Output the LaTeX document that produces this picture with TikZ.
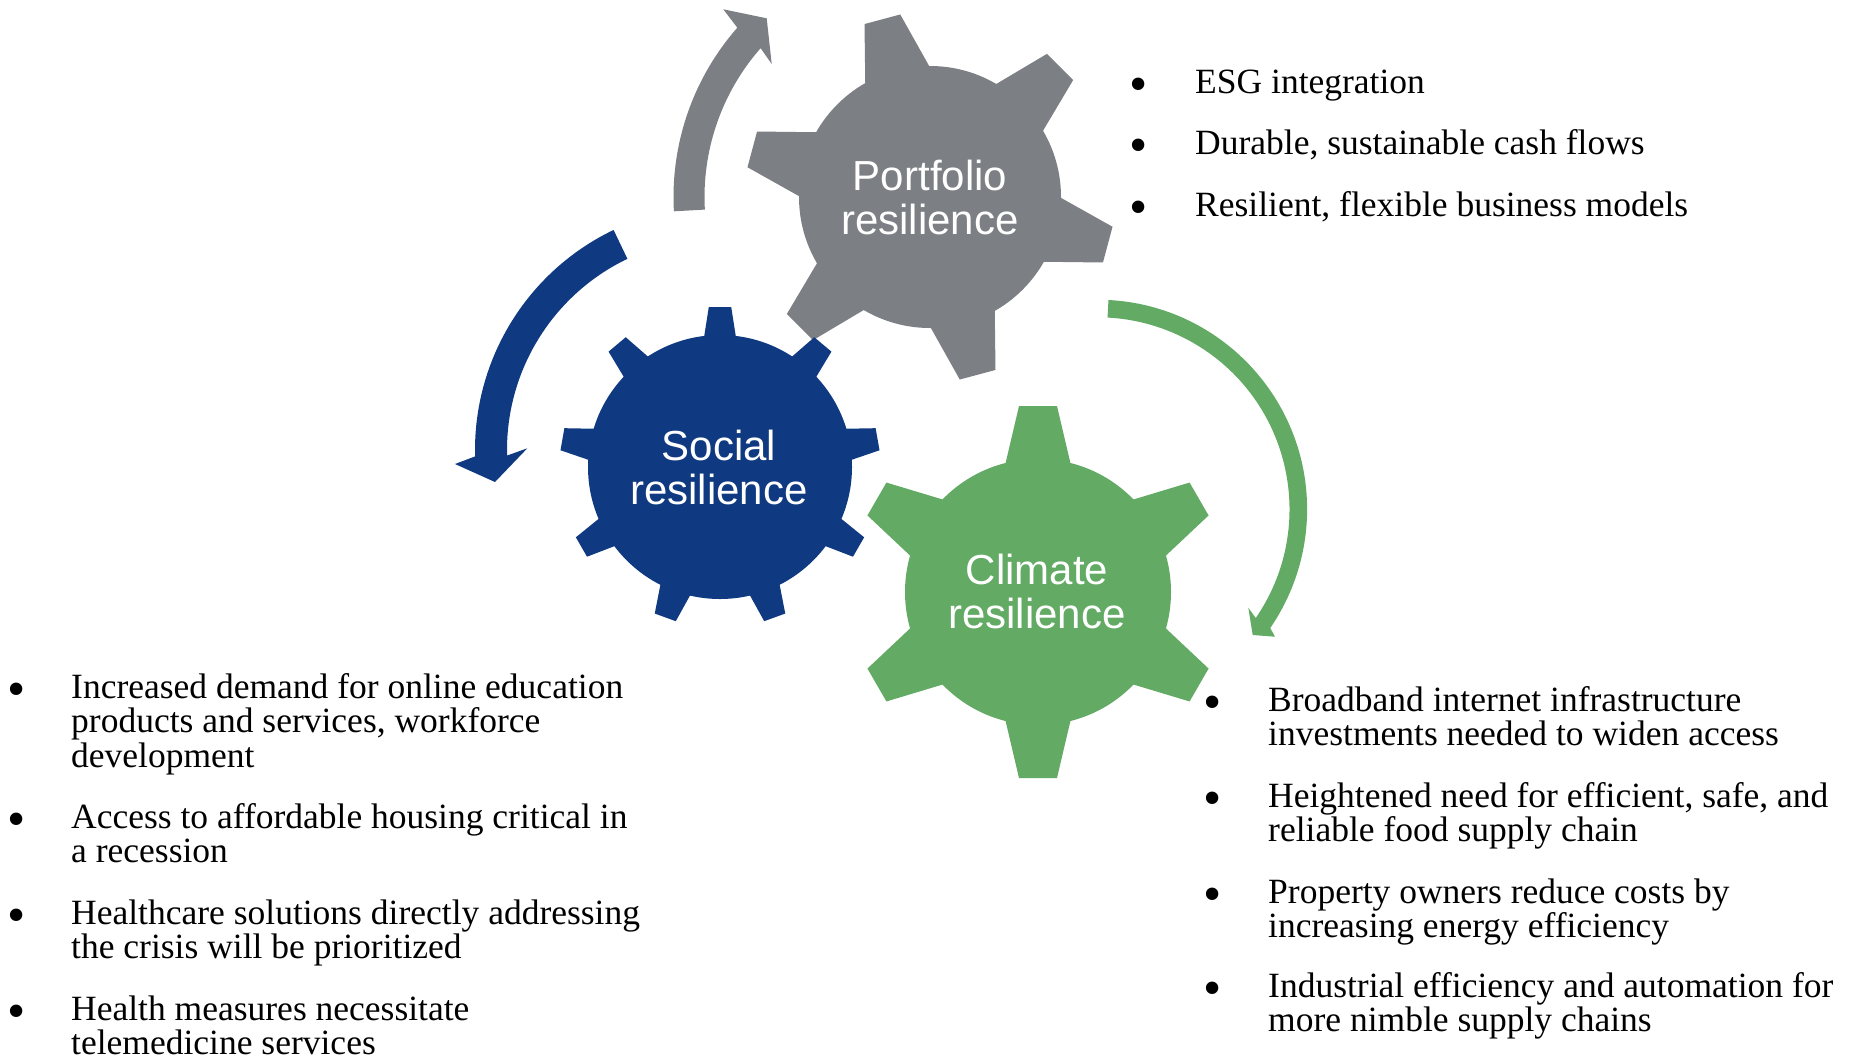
\documentclass[tikz,border=0pt]{standalone}
\usepackage{fontspec}
\setmainfont{Liberation Serif}
\newfontfamily\gearfont{Liberation Sans}

\definecolor{portfoliogray}{RGB}{124,127,132}
\definecolor{socialblue}{RGB}{15,57,128}
\definecolor{climategreen}{RGB}{99,171,101}

\tikzset{
  gearlabel/.style={text=white, align=center, inner sep=0, font=\gearfont\fontsize{42}{44}\selectfont},
  bullettext/.style={anchor=base west, inner sep=0, font=\fontsize{35.5}{34.5}\selectfont},
  bulletdot/.style={anchor=center, inner sep=0, yshift=3pt, font=\fontsize{52}{52}\selectfont},
}
\newcommand{\itemlines}[1]{\parbox[t]{800pt}{#1}}

\begin{document}
\begin{tikzpicture}[x=1pt,y=1pt,yscale=-1]
\useasboundingbox (0,0) rectangle (1855,1058);

%Shape: Gear [portfolio]
\fill[portfoliogray] (930,197) circle[radius=131];
\foreach \a in {105,165,...,405}
  \fill[portfoliogray, shift={(930,197)}, rotate=-\a] (118,-35.3) -- (184,-18.5) -- (184,18.5) -- (118,35.3) -- cycle;

%Shape: Gear [social]
\fill[socialblue] (720,467) circle[radius=132];
\foreach \a in {90,130,...,410}
  \fill[socialblue, shift={(720,467)}, rotate=-\a] (118,-17.8) -- (160,-11.2) -- (160,11.2) -- (118,17.8) -- cycle;

%Shape: Gear [climate]
\fill[climategreen] (1038,592) circle[radius=133];
\foreach \a in {90,150,...,390}
  \fill[climategreen, shift={(1038,592)}, rotate=-\a] (118,-35) -- (186,-19) -- (186,19) -- (118,35) -- cycle;

%Shape: Circular Arrow [portfolio]
\fill[portfoliogray] ([shift={(930,197)}]-183.2:256.5) arc[start angle=-183.2, end angle=-138.7, radius=256.5]
  -- (723.3,9.3) -- (766.7,18.3) -- (771.7,64)
  -- ([shift={(930,197)}]-138.7:225.5) arc[start angle=-138.7, end angle=-183.2, radius=225.5] -- cycle;

%Shape: Circular Arrow [social]
\fill[socialblue] ([shift={(719,450)}]-115.6:244) arc[start angle=-115.6, end angle=-181.5, radius=244]
  -- (455,464) -- (495,482) -- (527.3,448.3)
  -- ([shift={(719,450)}]-181.5:212) arc[start angle=-181.5, end angle=-115.6, radius=212] -- cycle;

%Shape: Circular Arrow [climate]
\fill[climategreen] ([shift={(1097.5,509.3)}]-87:209.6) arc[start angle=-87, end angle=34.5, radius=209.6]
  -- (1275,636.7) -- (1252.7,635) -- (1248.3,607.7)
  -- ([shift={(1097.5,509.3)}]34.5:192) arc[start angle=34.5, end angle=-87, radius=192] -- cycle;

% Text Node
\node[gearlabel] (portfolio) at (930,197) {Portfolio\\resilience};
\node[gearlabel] (social) at (719,467) {Social\\resilience};
\node[gearlabel] (climate) at (1037,591) {Climate\\resilience};

% Text Node: portfolio list
\node[bulletdot] (pb1) at (1139,93) {\textbullet};
\node[bullettext] (pt1) at (1195,93) {ESG integration};
\node[bulletdot] (pb2) at (1139,154) {\textbullet};
\node[bullettext] (pt2) at (1195,154) {Durable, sustainable cash flows};
\node[bulletdot] (pb3) at (1139,216) {\textbullet};
\node[bullettext] (pt3) at (1195,216) {Resilient, flexible business models};

% Text Node: social list
\node[bulletdot] (sb1) at (17,698) {\textbullet};
\node[bullettext] (st1) at (71,698) {\itemlines{Increased demand for online education\\products and services, workforce\\development}};
\node[bulletdot] (sb2) at (17,828) {\textbullet};
\node[bullettext] (st2) at (71,828) {\itemlines{Access to affordable housing critical in\\a recession}};
\node[bulletdot] (sb3) at (17,924) {\textbullet};
\node[bullettext] (st3) at (71,924) {\itemlines{Healthcare solutions directly addressing\\the crisis will be prioritized}};
\node[bulletdot] (sb4) at (17,1020) {\textbullet};
\node[bullettext] (st4) at (71,1020) {\itemlines{Health measures necessitate\\telemedicine services}};

% Text Node: climate list
\node[bulletdot] (cb1) at (1213,711) {\textbullet};
\node[bullettext] (ct1) at (1268,711) {\itemlines{Broadband internet infrastructure\\investments needed to widen access}};
\node[bulletdot] (cb2) at (1213,807) {\textbullet};
\node[bullettext] (ct2) at (1268,807) {\itemlines{Heightened need for efficient, safe, and\\reliable food supply chain}};
\node[bulletdot] (cb3) at (1213,903) {\textbullet};
\node[bullettext] (ct3) at (1268,903) {\itemlines{Property owners reduce costs by\\increasing energy efficiency}};
\node[bulletdot] (cb4) at (1213,997) {\textbullet};
\node[bullettext] (ct4) at (1268,997) {\itemlines{Industrial efficiency and automation for\\more nimble supply chains}};

\end{tikzpicture}
\end{document}
